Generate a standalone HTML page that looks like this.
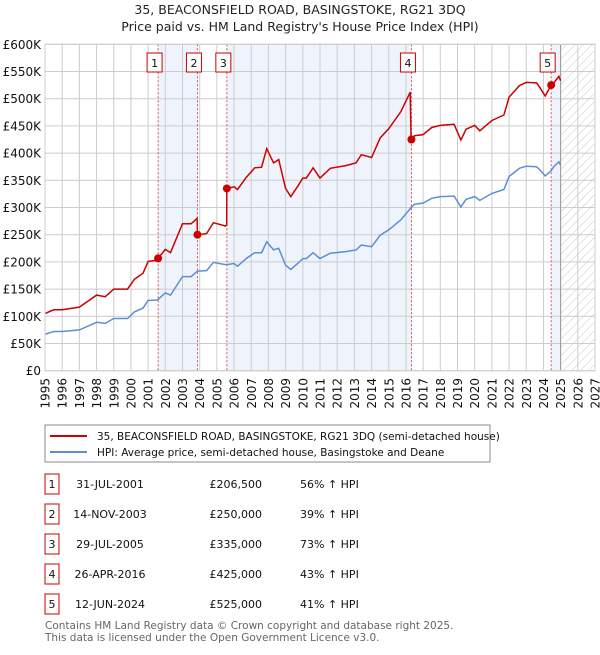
<!DOCTYPE html>
<html><head><meta charset="utf-8"><style>
body{margin:0;background:#fff;width:600px;height:650px;overflow:hidden;font-family:"Liberation Sans","DejaVu Sans",sans-serif;}
svg text{font-family:"DejaVu Sans","Liberation Sans",sans-serif;}
</style></head><body>
<svg id="chart" width="600" height="650" viewBox="0 0 600 650">
<defs><pattern id="hatch" width="6" height="6" patternUnits="userSpaceOnUse" patternTransform="rotate(45)"><line x1="0" y1="0" x2="0" y2="6" stroke="#c8c8c8" stroke-width="1"/></pattern></defs>
<text x="300" y="14" text-anchor="middle" font-size="12.5" fill="#222">35, BEACONSFIELD ROAD, BASINGSTOKE, RG21 3DQ</text>
<text x="300" y="31" text-anchor="middle" font-size="12.5" fill="#222">Price paid vs. HM Land Registry's House Price Index (HPI)</text>
<g id="plot"></g>
<rect x="45" y="425" width="445" height="37" fill="#fff" stroke="#888"/>
<line x1="50" y1="436" x2="87" y2="436" stroke="#cc0000" stroke-width="2"/>
<text x="97" y="440" font-size="10.5" fill="#111">35, BEACONSFIELD ROAD, BASINGSTOKE, RG21 3DQ (semi-detached house)</text>
<line x1="50" y1="452" x2="87" y2="452" stroke="#5b8fd4" stroke-width="2"/>
<text x="97" y="456" font-size="10.5" fill="#111">HPI: Average price, semi-detached house, Basingstoke and Deane</text>
<g id="table"></g>
<text x="45" y="629" font-size="10.5" fill="#666">Contains HM Land Registry data © Crown copyright and database right 2025.</text>
<text x="45" y="641" font-size="10.5" fill="#666">This data is licensed under the Open Government Licence v3.0.</text>
</svg>
<script>
const hpiYears=[1995,1995.5,1996,1997,1998,1998.5,1999,1999.8,2000.2,2000.7,2001,2001.5,2001.58,2002,2002.3,2003,2003.5,2003.87,2004.4,2004.8,2005.5,2005.58,2006,2006.2,2006.7,2007.2,2007.6,2007.9,2008.3,2008.6,2009,2009.3,2009.7,2010,2010.2,2010.6,2011,2011.6,2012.5,2013.1,2013.4,2014,2014.5,2015,2015.7,2016.25,2016.3,2016.5,2017,2017.5,2018,2018.8,2019.2,2019.5,2020,2020.3,2021,2021.7,2022,2022.6,2023,2023.6,2023.8,2024.1,2024.45,2024.6,2024.9,2025];
const hpiValues=[67,72,72,75,89,87,96,96,108,115,129,130,131,143,139,173,173,183,184,199,195,195,197,192,206,217,217,237,222,225,194,186,197,206,206,217,206,216,219,222,231,228,249,259,277,298,300,306,308,317,320,321,301,315,320,313,326,333,357,372,376,375,369,358,368,375,384,378];
const priceYears=[1995,1995.5,1996,1997,1998,1998.5,1999,1999.8,2000.2,2000.7,2001,2001.5,2001.58,2002,2002.3,2003,2003.5,2003.85,2003.87,2004.4,2004.8,2005.5,2005.57,2005.58,2006,2006.2,2006.7,2007.2,2007.6,2007.9,2008.3,2008.6,2009,2009.3,2009.7,2010,2010.2,2010.6,2011,2011.6,2012.5,2013.1,2013.4,2014,2014.5,2015,2015.7,2016.25,2016.3,2016.5,2017,2017.5,2018,2018.8,2019.2,2019.5,2020,2020.3,2021,2021.7,2022,2022.6,2023,2023.6,2023.8,2024.1,2024.45,2024.6,2024.9,2025];
const priceValues=[105,112,112,117,139,136,150,150,168,179,201,203,206.5,223,217,270,270,280,250,252,272,266,268,335,338,333,355,373,374,408,382,388,335,320,339,354,354,373,354,372,377,382,397,392,428,445,476,512,425,432,434,447,451,453,424,444,451,441,460,470,503,524,530,529,520,505,525,529,541,533];
const saleLabels=["1","2","3","4","5"];
const saleYears=[2001.58,2003.87,2005.58,2016.32,2024.45];
const saleValues=[206.5,250,335,425,525];
const saleDates=["31-JUL-2001","14-NOV-2003","29-JUL-2005","26-APR-2016","12-JUN-2024"];
const salePrices=["£206,500","£250,000","£335,000","£425,000","£525,000"];
const saleHpi=["56% ↑ HPI","39% ↑ HPI","73% ↑ HPI","43% ↑ HPI","41% ↑ HPI"];
const yTicks=[0,50,100,150,200,250,300,350,400,450,500,550,600];
const yTickLabels=["£0","£50K","£100K","£150K","£200K","£250K","£300K","£350K","£400K","£450K","£500K","£550K","£600K"];
const xTicks=[1995,1996,1997,1998,1999,2000,2001,2002,2003,2004,2005,2006,2007,2008,2009,2010,2011,2012,2013,2014,2015,2016,2017,2018,2019,2020,2021,2022,2023,2024,2025,2026,2027];

const X0=45,X1=595,Y0=370.7,Y1=44.3,ymin=1995,ymax=2027,dataEnd=2025;
const xs=y=>X0+(y-ymin)/(ymax-ymin)*(X1-X0);
const ys=v=>Y0-v/600*(Y0-Y1);
const NS="http://www.w3.org/2000/svg";
const plot=document.getElementById('plot');
function mk(tag,attrs,parent){const e=document.createElementNS(NS,tag);for(const k in attrs)e.setAttribute(k,attrs[k]);(parent||plot).appendChild(e);return e;}
// shaded bands between alternating sales
for(let i=0;i<saleYears.length;i+=2){
  const a=saleYears[i],b=i+1<saleYears.length?saleYears[i+1]:dataEnd;
  const r=mk('rect',{x:xs(a),y:Y1,width:xs(b)-xs(a),height:Y0-Y1,fill:'#eef3fc'});
  
  
}
const h=mk('rect',{x:xs(dataEnd),y:Y1,width:X1-xs(dataEnd),height:Y0-Y1,fill:'url(#hatch)'});


// grid
yTicks.forEach((t,i)=>{
  const l=mk('line',{x1:X0,x2:X1,y1:ys(t),y2:ys(t),stroke:'#cccccc','stroke-width':1});
  
  
  const tx=mk('text',{x:X0-4,y:ys(t)+4.5,'text-anchor':'end','font-size':'12',fill:'#111'});
  tx.textContent=yTickLabels[i];
  
  
});
xTicks.forEach(t=>{
  const l=mk('line',{x1:xs(t),x2:xs(t),y1:Y1,y2:Y0,stroke:'#cccccc','stroke-width':1});
  
  
  const tx=mk('text',{x:0,y:0,'text-anchor':'end','font-size':'12',fill:'#111',transform:`translate(${xs(t)+4.5},378) rotate(-90)`});
  tx.textContent=t;
  
  
});
const dl=mk('line',{x1:xs(dataEnd),x2:xs(dataEnd),y1:Y1,y2:Y0,stroke:'#999','stroke-width':1});


// sale vertical lines + labels
saleYears.forEach((y,i)=>{
  const l=mk('line',{x1:xs(y),x2:xs(y),y1:Y1,y2:Y0,stroke:'#e05050','stroke-width':1,'stroke-dasharray':'2,2'});
  
  
  const b=mk('rect',{x:xs(y)-11,y:53,width:15,height:19,fill:'#fff',stroke:'#cc0000','stroke-width':1});
  
  
  const tx=mk('text',{x:xs(y)-3.5,y:67,'text-anchor':'middle','font-size':'11',fill:'#111'});
  tx.textContent=saleLabels[i];
  
  
});
const pl=mk('path',{d:hpiYears.map((y,i)=>(i?'L':'M')+xs(y).toFixed(1)+','+ys(hpiValues[i]).toFixed(1)).join(''),fill:'none',stroke:'#5b8fd4','stroke-width':1.5});


const pr=mk('path',{d:priceYears.map((y,i)=>(i?'L':'M')+xs(y).toFixed(1)+','+ys(priceValues[i]).toFixed(1)).join(''),fill:'none',stroke:'#cc0000','stroke-width':1.5});


saleYears.forEach((y,i)=>{
  const c=mk('circle',{cx:xs(y),cy:ys(saleValues[i]),r:4,fill:'#cc0000'});
  
  
});
const bd=mk('rect',{x:X0,y:Y1,width:X1-X0,height:Y0-Y1,fill:'none',stroke:'#cccccc'});


// table
const tb=document.getElementById('table');
saleLabels.forEach((s,i)=>{
  const cy=484+i*30;
  const b=mk('rect',{x:45,y:cy-10,width:14,height:20,fill:'#fff',stroke:'#cc0000'},tb);
  
  
  const cells=[[52,'middle',s],[110,'middle',saleDates[i]],[262,'end',salePrices[i]],[300,'start',saleHpi[i]]];
  cells.forEach((c,j)=>{
    const t=mk('text',{x:c[0],y:cy+4,'text-anchor':c[1],'font-size':'11',fill:'#111'},tb);
    t.textContent=c[2];
    
    
  });
});
</script>
</body></html>
